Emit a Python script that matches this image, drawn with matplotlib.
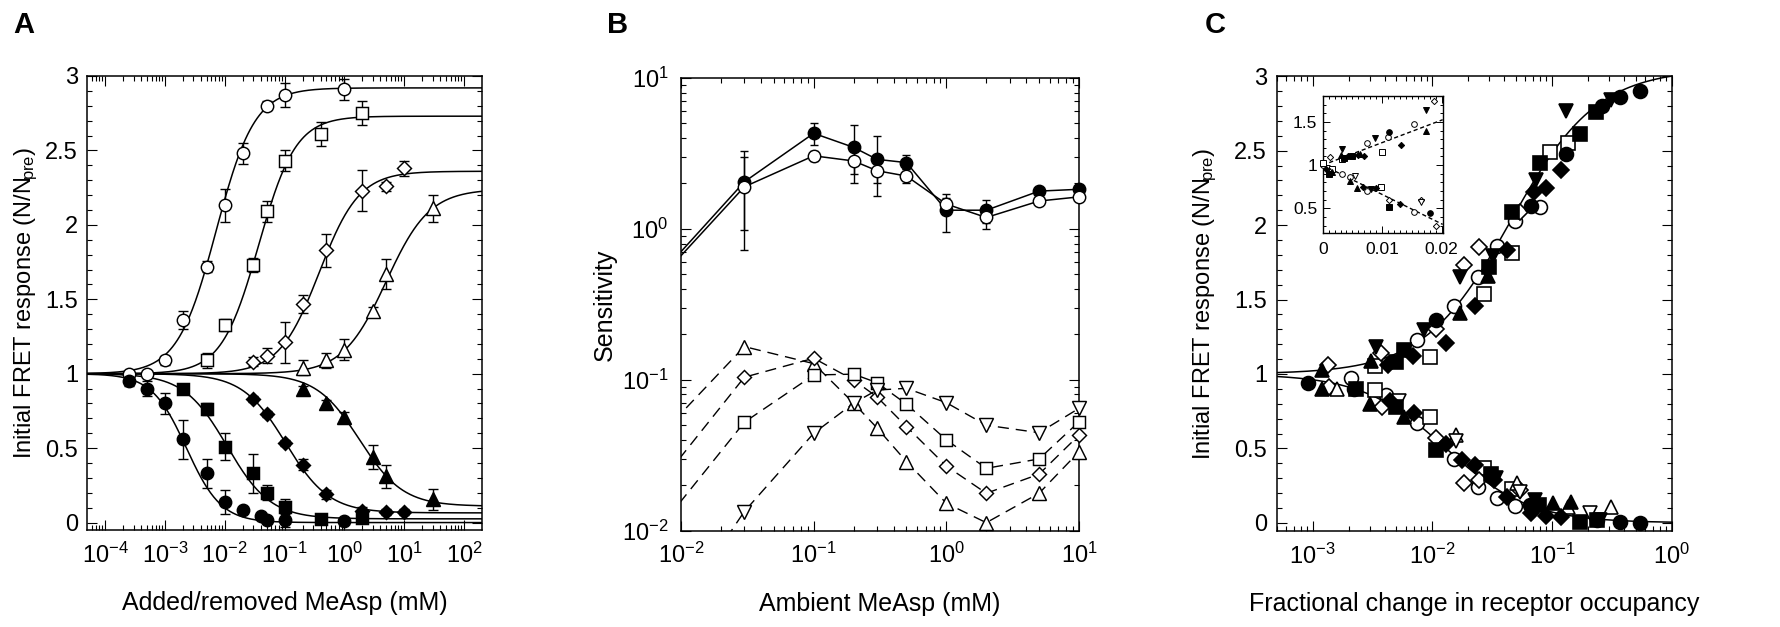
import numpy as np
import matplotlib
matplotlib.use('Agg')
import matplotlib.pyplot as plt
from matplotlib.ticker import MultipleLocator, LogLocator, NullFormatter

plt.rcParams['font.family'] = ['Liberation Sans', 'DejaVu Sans']
plt.rcParams['mathtext.fontset'] = 'custom'
plt.rcParams['mathtext.rm'] = 'Liberation Sans'
plt.rcParams['mathtext.it'] = 'Liberation Sans:italic'
plt.rcParams['mathtext.bf'] = 'Liberation Sans:bold'

# ---------------- panel A data: added (open) / removed (filled) MeAsp
a_oc_x = [0.00025, 0.0005, 0.001, 0.002, 0.005, 0.01, 0.02, 0.05, 0.1, 1.0]
a_oc_y = [1.0, 1.0, 1.09, 1.36, 1.72, 2.13, 2.48, 2.80, 2.87, 2.91]
a_oc_e = [0.02, 0.02, 0.03, 0.06, 0.04, 0.11, 0.07, 0.03, 0.08, 0.07]
a_os_x = [0.005, 0.01, 0.03, 0.05, 0.1, 0.4, 2.0]
a_os_y = [1.09, 1.33, 1.73, 2.09, 2.43, 2.61, 2.75]
a_os_e = [0.05, 0.04, 0.05, 0.07, 0.07, 0.08, 0.08]
a_od_x = [0.03, 0.05, 0.1, 0.2, 0.5, 2.0, 5.0, 10.0]
a_od_y = [1.08, 1.12, 1.21, 1.47, 1.83, 2.23, 2.26, 2.38]
a_od_e = [0.03, 0.05, 0.14, 0.06, 0.11, 0.14, 0.03, 0.05]
a_ot_x = [0.2, 0.5, 1.0, 3.0, 5.0, 30.0]
a_ot_y = [1.04, 1.09, 1.16, 1.42, 1.67, 2.11]
a_ot_e = [0.05, 0.05, 0.07, 0.03, 0.10, 0.09]

a_fc_x = [0.00025, 0.0005, 0.001, 0.002, 0.005, 0.01, 0.02, 0.04, 0.05, 0.1, 1.0]
a_fc_y = [0.95, 0.90, 0.80, 0.56, 0.33, 0.14, 0.087, 0.047, 0.02, 0.02, 0.01]
a_fc_e = [0.03, 0.05, 0.07, 0.13, 0.10, 0.08, 0.02, 0.02, 0.02, 0.05, 0.02]
a_fs_x = [0.002, 0.005, 0.01, 0.03, 0.05, 0.1, 0.4, 2.0]
a_fs_y = [0.90, 0.76, 0.51, 0.33, 0.20, 0.105, 0.027, 0.03]
a_fs_e = [0.02, 0.04, 0.09, 0.13, 0.05, 0.05, 0.02, 0.02]
a_fd_x = [0.03, 0.05, 0.1, 0.2, 0.5, 2.0, 5.0, 10.0]
a_fd_y = [0.83, 0.73, 0.535, 0.39, 0.19, 0.076, 0.072, 0.072]
a_fd_e = [0.02, 0.02, 0.02, 0.04, 0.03, 0.03, 0.02, 0.02]
a_ft_x = [0.2, 0.5, 1.0, 3.0, 5.0, 30.0]
a_ft_y = [0.90, 0.80, 0.71, 0.44, 0.31, 0.155]
a_ft_e = [0.02, 0.02, 0.03, 0.08, 0.08, 0.07]

# Hill fit parameters (circle, square, diamond, triangle)
a_up_K = [0.0072, 0.037, 0.38, 5.0]
a_up_n = [1.35, 1.4, 1.3, 1.2]
a_up_top = [2.92, 2.73, 2.36, 2.24]
a_dn_K = [0.0023, 0.011, 0.105, 1.8]
a_dn_n = [1.5, 1.2, 1.2, 1.2]
a_dn_bot = [0.0, 0.025, 0.065, 0.11]

# ---------------- panel B data: sensitivity vs ambient MeAsp
b_x = [0.003, 0.03, 0.1, 0.2, 0.3, 0.5, 1.0, 2.0, 5.0, 10.0]
b_fc = [0.22, 2.05, 4.3, 3.47, 2.89, 2.75, 1.33, 1.33, 1.78, 1.83]
b_fc_lo = [np.nan, 0.72, 3.6, 2.02, 1.66, 2.5, 0.95, 1.0, 1.65, 1.7]
b_fc_hi = [np.nan, 3.3, 5.0, 4.9, 4.1, 3.1, 1.7, 1.55, 1.9, 1.95]
b_oc = [0.21, 1.9, 3.05, 2.82, 2.43, 2.24, 1.46, 1.19, 1.53, 1.63]
b_oc_lo = [np.nan, 0.98, 2.8, 2.3, 2.0, 2.0, 1.3, 1.1, 1.45, 1.55]
b_oc_hi = [np.nan, 2.98, 3.3, 3.3, 2.9, 2.5, 1.6, 1.3, 1.6, 1.7]
b_tu = [0.0196, 0.166, 0.128, 0.07, 0.048, 0.0287, 0.0152, 0.0113, 0.0177, 0.0334]
b_di = [0.0082, 0.104, 0.139, 0.0997, 0.077, 0.049, 0.0268, 0.0177, 0.0237, 0.043]
b_sq = [0.0042, 0.0523, 0.1076, 0.109, 0.0957, 0.069, 0.040, 0.0259, 0.0299, 0.0527]
b_td = [0.00067, 0.0134, 0.0442, 0.070, 0.0855, 0.0878, 0.0705, 0.050, 0.0446, 0.0647]

# ---------------- panel C data: response vs fractional change in occupancy
c_fc_x = [0.0108, 0.067, 0.13, 0.26, 0.37, 0.54, 0.00091, 0.0022, 0.066, 0.24, 0.37, 0.54]
c_fc_y = [1.36, 2.13, 2.48, 2.80, 2.86, 2.90, 0.94, 0.90, 0.12, 0.018, 0.007, 0.0]
c_oc_x = [0.0075, 0.0153, 0.024, 0.035, 0.049, 0.079, 0.0021, 0.0041, 0.0075, 0.0153, 0.024, 0.035, 0.049]
c_oc_y = [1.23, 1.46, 1.65, 1.86, 2.03, 2.12, 0.97, 0.86, 0.67, 0.43, 0.24, 0.164, 0.114]
c_fs_x = [0.0050, 0.0058, 0.030, 0.046, 0.080, 0.17, 0.235, 0.0023, 0.0050, 0.0108, 0.031, 0.078, 0.17, 0.24]
c_fs_y = [1.08, 1.16, 1.72, 2.09, 2.42, 2.61, 2.76, 0.90, 0.78, 0.49, 0.33, 0.12, 0.007, 0.018]
c_os_x = [0.0033, 0.0095, 0.0273, 0.046, 0.096, 0.136, 0.0033, 0.0095, 0.0273, 0.046]
c_os_y = [1.055, 1.115, 1.54, 1.81, 2.49, 2.55, 0.89, 0.71, 0.365, 0.23]
c_fd_x = [0.0043, 0.0069, 0.0129, 0.0226, 0.042, 0.071, 0.090, 0.12,
          0.0044, 0.0071, 0.0131, 0.0178, 0.0226, 0.033, 0.042, 0.067, 0.090, 0.12]
c_fd_y = [1.06, 1.12, 1.21, 1.46, 1.83, 2.22, 2.25, 2.37,
          0.82, 0.735, 0.53, 0.42, 0.39, 0.29, 0.175, 0.063, 0.045, 0.04]
c_od_x = [0.00135, 0.0037, 0.0108, 0.0183, 0.0248, 0.054, 0.00138, 0.0038, 0.0108, 0.0183, 0.0248, 0.054]
c_od_y = [1.06, 1.14, 1.30, 1.73, 1.85, 2.09, 0.91, 0.78, 0.57, 0.27, 0.29, 0.22]
c_ftu_x = [0.0012, 0.0031, 0.0172, 0.029, 0.0012, 0.0030, 0.0058, 0.102, 0.145]
c_ftu_y = [1.03, 1.09, 1.41, 1.66, 0.90, 0.80, 0.71, 0.13, 0.14]
c_otu_x = [0.0016, 0.0158, 0.051, 0.136, 0.31]
c_otu_y = [0.90, 0.59, 0.265, 0.105, 0.107]
c_ftd_x = [0.0034, 0.0086, 0.0172, 0.032, 0.074, 0.13, 0.31, 0.072, 0.034, 0.25]
c_ftd_y = [1.18, 1.295, 1.65, 1.79, 2.30, 2.77, 2.84, 0.15, 0.30, 0.02]
c_otd_x = [0.0053, 0.0158, 0.054, 0.21]
c_otd_y = [0.82, 0.55, 0.21, 0.063]
# fitted curves in C
c_up_A, c_up_K, c_up_n = 2.05, 0.045, 1.2
c_dn_K, c_dn_n = 0.013, 1.25

# ---------------- inset data (linear x)
i_fc_x = [0.0112, 0.018]
i_fc_y = [1.38, 0.44]
i_oc_x = [0.0075, 0.011, 0.0154, 0.0, 0.0033, 0.0046, 0.0075, 0.0154]
i_oc_y = [1.25, 1.33, 1.47, 1.0, 0.90, 0.86, 0.70, 0.46]
i_fs_x = [0.0036, 0.0050, 0.0011, 0.0111]
i_fs_y = [1.085, 1.10, 0.90, 0.52]
i_os_x = [0.0, 0.0033, 0.0099, 0.0015, 0.0098]
i_os_y = [1.02, 1.065, 1.155, 0.95, 0.75]
i_fd_x = [0.0043, 0.0060, 0.0070, 0.0131, 0.0006, 0.0068, 0.0089, 0.013]
i_fd_y = [1.10, 1.12, 1.10, 1.23, 0.96, 0.75, 0.73, 0.555]
i_od_x = [0.0013, 0.0188, 0.0111, 0.0165, 0.019]
i_od_y = [1.097, 1.74, 0.59, 0.60, 0.30]
i_ftu_x = [0.0031, 0.0063, 0.0174, 0.0016, 0.0046, 0.0058]
i_ftu_y = [1.12, 1.13, 1.40, 0.92, 0.81, 0.73]
i_ftd_x = [0.0033, 0.0088, 0.0174, 0.0082]
i_ftd_y = [1.19, 1.31, 1.64, 0.72]
i_otd_x = [0.0055, 0.0166]
i_otd_y = [0.876, 0.57]
i_otu_x = [0.0012]
i_otu_y = [0.93]
i_slope_up, i_slope_dn = 26.0, -34.0

# ---------------- drawing
MS = {'o': 8.5, 's': 8.0, 'D': 6.6, '^': 9.0, 'v': 9.0}
YLAB = r'Initial FRET response (N/N$\!_{\mathrm{pre}}$)'


def pts(ax, x, y, m, filled, scale=1.0, clip=True, z=3):
    ax.plot(x, y, ls='none', marker=m, ms=MS[m] * scale,
            mfc='black' if filled else 'white', mec='black',
            mew=1.0 * max(scale, 0.7), zorder=z, clip_on=clip)


def style(ax, ypad=6.5, xpad=9):
    for s in ax.spines.values():
        s.set_linewidth(1.1)
    ax.tick_params(which='both', direction='in', top=True, right=True,
                   width=0.8, colors='black')
    ax.tick_params(which='major', length=7, labelsize=17)
    ax.tick_params(which='minor', length=3.5)
    ax.tick_params(axis='y', pad=ypad)
    ax.tick_params(axis='x', pad=xpad)


def logx(ax):
    ax.set_xscale('log')
    ax.xaxis.set_major_locator(LogLocator(base=10, numticks=20))
    ax.xaxis.set_minor_locator(LogLocator(base=10, subs=range(2, 10), numticks=100))
    ax.xaxis.set_minor_formatter(NullFormatter())


fig = plt.figure(figsize=(17.8, 6.27), dpi=100)
axA = fig.add_axes([0.0489, 0.1547, 0.2219, 0.7241])
axB = fig.add_axes([0.3826, 0.1536, 0.2236, 0.7220])
axC = fig.add_axes([0.7172, 0.1531, 0.2219, 0.7252])

# ---- A
xs = np.logspace(-4.3, 2.3, 500)
for K, n, top in zip(a_up_K, a_up_n, a_up_top):
    r = (xs / K) ** n
    axA.plot(xs, 1 + (top - 1) * r / (1 + r), color='black', lw=1.1, zorder=2)
for K, n, bot in zip(a_dn_K, a_dn_n, a_dn_bot):
    r = (xs / K) ** n
    axA.plot(xs, bot + (1 - bot) / (1 + r), color='black', lw=1.1, zorder=2)

for x, y, e, m, f in [(a_oc_x, a_oc_y, a_oc_e, 'o', False), (a_os_x, a_os_y, a_os_e, 's', False),
                      (a_od_x, a_od_y, a_od_e, 'D', False), (a_ot_x, a_ot_y, a_ot_e, '^', False),
                      (a_fc_x, a_fc_y, a_fc_e, 'o', True), (a_fs_x, a_fs_y, a_fs_e, 's', True),
                      (a_fd_x, a_fd_y, a_fd_e, 'D', True), (a_ft_x, a_ft_y, a_ft_e, '^', True)]:
    axA.errorbar(x, y, yerr=e, fmt='none', ecolor='black', elinewidth=1.0,
                 capsize=3.5, capthick=1.0, zorder=2.5)
    pts(axA, x, y, m, f, scale=1.05)

logx(axA)
axA.set_xlim(10 ** -4.3, 10 ** 2.3)
axA.set_ylim(-0.05, 3.0)
axA.set_yticks([0, 0.5, 1, 1.5, 2, 2.5, 3])
axA.set_yticklabels(['0', '0.5', '1', '1.5', '2', '2.5', '3'])
axA.yaxis.set_minor_locator(MultipleLocator(0.1))
style(axA)
axA.set_xlabel('Added/removed MeAsp (mM)', fontsize=18, labelpad=17)
axA.set_ylabel(YLAB, fontsize=17)
axA.yaxis.set_label_coords(-0.118, 0.5)

# ---- B
bx = np.array(b_x)
shown = bx >= 0.01
axB.plot(b_x, b_fc, color='black', lw=1.1, zorder=2)
axB.plot(b_x, b_oc, color='black', lw=1.1, zorder=2)
for y, lo, hi in [(b_fc, b_fc_lo, b_fc_hi), (b_oc, b_oc_lo, b_oc_hi)]:
    y = np.array(y)
    axB.errorbar(bx, y, yerr=[y - np.array(lo), np.array(hi) - y], fmt='none',
                 ecolor='black', elinewidth=1.0, capsize=3, capthick=1.0, zorder=2.5)
for y in [b_tu, b_di, b_sq, b_td]:
    axB.plot(b_x, y, color='black', lw=1.0, ls=(0, (8, 5)), zorder=2)
for y, m, f in [(b_tu, '^', False), (b_di, 'D', False), (b_sq, 's', False), (b_td, 'v', False),
                (b_fc, 'o', True), (b_oc, 'o', False)]:
    pts(axB, bx[shown], np.array(y)[shown], m, f, scale=1.05, clip=False)

logx(axB)
axB.set_yscale('log')
axB.yaxis.set_major_locator(LogLocator(base=10, numticks=20))
axB.yaxis.set_minor_locator(LogLocator(base=10, subs=range(2, 10), numticks=100))
axB.yaxis.set_minor_formatter(NullFormatter())
axB.set_xlim(0.01, 10)
axB.set_ylim(0.01, 10)
style(axB, ypad=9)
axB.set_xlabel('Ambient MeAsp (mM)', fontsize=18, labelpad=17)
axB.set_ylabel('Sensitivity', fontsize=18, labelpad=4)

# ---- C
xc = np.logspace(np.log10(5e-4), 0, 400)
r = (xc / c_up_K) ** c_up_n
axC.plot(xc, 1 + c_up_A * r / (1 + r), color='black', lw=1.1, zorder=2)
r = (xc / c_dn_K) ** c_dn_n
axC.plot(xc, 1 / (1 + r), color='black', lw=1.1, zorder=2)
for x, y, m, f in [(c_oc_x, c_oc_y, 'o', False), (c_os_x, c_os_y, 's', False),
                   (c_od_x, c_od_y, 'D', False), (c_otu_x, c_otu_y, '^', False),
                   (c_otd_x, c_otd_y, 'v', False),
                   (c_fc_x, c_fc_y, 'o', True), (c_fs_x, c_fs_y, 's', True),
                   (c_fd_x, c_fd_y, 'D', True), (c_ftu_x, c_ftu_y, '^', True),
                   (c_ftd_x, c_ftd_y, 'v', True)]:
    pts(axC, x, y, m, f, scale=1.18, clip=False)
logx(axC)
axC.set_xlim(5e-4, 1)
axC.set_ylim(-0.055, 3.0)
axC.set_yticks([0, 0.5, 1, 1.5, 2, 2.5, 3])
axC.set_yticklabels(['0', '0.5', '1', '1.5', '2', '2.5', '3'])
axC.yaxis.set_minor_locator(MultipleLocator(0.1))
style(axC, ypad=7)
axC.set_xlabel('Fractional change in receptor occupancy', fontsize=18, labelpad=17)
axC.set_ylabel(YLAB, fontsize=17)
axC.yaxis.set_label_coords(-0.145, 0.5)

# ---- inset
axI = fig.add_axes([0.7431, 0.6279, 0.0674, 0.2190])
axI.axline((0, 1), slope=i_slope_up, color='black', lw=1.0, ls=(0, (3, 2)), zorder=2)
axI.axline((0, 1), slope=i_slope_dn, color='black', lw=1.0, ls=(0, (3, 2)), zorder=2)
for x, y, m, f in [(i_oc_x, i_oc_y, 'o', False), (i_os_x, i_os_y, 's', False),
                   (i_od_x, i_od_y, 'D', False), (i_otu_x, i_otu_y, '^', False),
                   (i_otd_x, i_otd_y, 'v', False),
                   (i_fc_x, i_fc_y, 'o', True), (i_fs_x, i_fs_y, 's', True),
                   (i_fd_x, i_fd_y, 'D', True), (i_ftu_x, i_ftu_y, '^', True),
                   (i_ftd_x, i_ftd_y, 'v', True)]:
    pts(axI, x, y, m, f, scale=0.48, clip=False)
axI.set_xlim(0, 0.0202)
axI.set_ylim(0.21, 1.8)
axI.set_xticks([0, 0.01, 0.02])
axI.set_xticklabels(['0', '0.01', '0.02'])
axI.set_yticks([0.5, 1, 1.5])
axI.set_yticklabels(['0.5', '1', '1.5'])
axI.xaxis.set_minor_locator(MultipleLocator(0.001))
axI.yaxis.set_minor_locator(MultipleLocator(0.1))
for s in axI.spines.values():
    s.set_linewidth(1.0)
axI.tick_params(which='both', direction='in', top=True, right=True, width=0.7)
axI.tick_params(which='major', length=5, labelsize=12.5, pad=4)
axI.tick_params(which='minor', length=2.5)
axI.tick_params(axis='x', pad=6)

# panel letters
for xf, letter in [(0.0073, 'A'), (0.341, 'B'), (0.677, 'C')]:
    fig.text(xf, 1 - 33 / 627, letter, fontsize=21, fontweight='bold', va='baseline')

plt.savefig('out.png', dpi=100)
